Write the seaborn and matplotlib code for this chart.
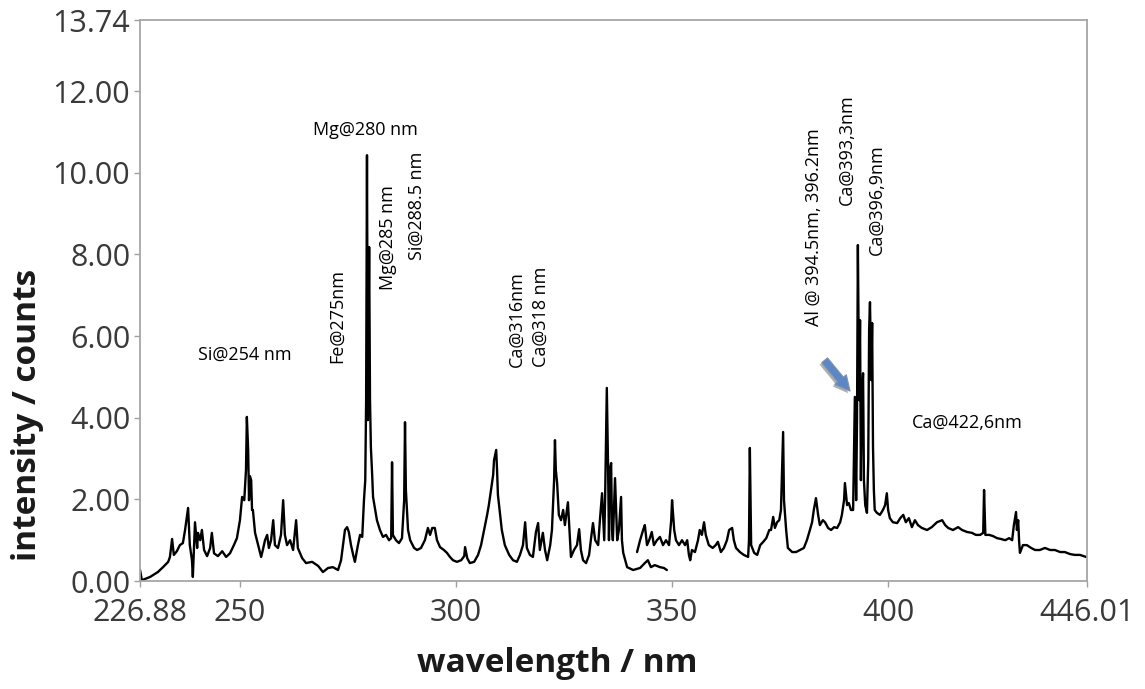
import numpy as np
import pandas as pd
import matplotlib
matplotlib.use("Agg")
import matplotlib.pyplot as plt
import matplotlib.patheffects as pe
import seaborn as sns

# Spectrometer channel 1 (UV): wavelength (nm) and intensity (counts)
wl_ch1 = [226.88, 227.3, 229.2, 231.0, 232.2, 233.4, 233.8, 234.3, 234.7, 235.4,
          236.1, 236.8, 237.3, 238.0, 238.4, 238.9, 239.1, 239.4, 239.6, 240.1,
          240.3, 240.8, 241.2, 241.7, 242.4, 243.1, 243.5, 244.0, 244.9, 245.9,
          246.8, 247.7, 248.6, 249.3, 250.0, 250.5, 251.0, 251.4, 251.6, 251.9,
          252.1, 252.3, 252.6, 252.8, 253.0, 253.5, 254.2, 254.9, 255.3, 255.8,
          256.3, 256.7, 257.2, 257.7, 258.1, 258.8, 259.5, 260.0, 260.4, 260.9,
          261.6, 262.3, 263.0, 263.4, 264.4, 265.3, 266.7, 268.1, 269.2, 270.4,
          271.5, 272.7, 273.4, 273.9, 274.3, 274.8, 275.2, 275.7, 276.2, 276.6,
          277.3, 277.8, 278.3, 278.7, 279.0, 279.2, 279.4, 279.6, 279.9, 280.1,
          280.3, 280.6, 280.8, 281.3, 281.7, 282.4, 283.1, 283.8, 284.5, 285.0,
          285.2, 285.4, 286.1, 286.8, 287.5, 288.0, 288.2, 288.4, 288.9, 289.4,
          290.3, 291.0, 291.9, 292.8, 293.5, 294.0, 294.5, 295.1, 295.6, 296.3,
          297.2, 297.9, 298.6, 299.3, 300.2, 301.2, 301.9, 302.1, 302.6, 303.2,
          304.2, 305.1, 305.8, 306.5, 307.2, 307.6, 308.1, 308.6, 308.8, 309.3,
          309.5, 309.7, 310.2, 310.6, 311.3, 312.3, 313.2, 314.1, 314.8, 315.5,
          316.0, 316.4, 317.1, 317.8, 318.5, 319.0, 319.4, 320.1, 320.6, 321.1,
          321.8, 322.2, 322.7, 322.9, 323.1, 323.4, 323.8, 324.3, 324.8, 325.2,
          325.9, 326.4, 326.6, 327.3, 328.0, 328.5, 328.9, 329.4, 330.1, 330.8,
          331.2, 331.7, 332.2, 332.9, 333.3, 333.8, 334.3, 334.5, 334.9, 335.2,
          335.4, 335.6, 335.9, 336.1, 336.3, 336.8, 337.3, 337.7, 338.2, 338.4,
          338.7, 339.6, 341.0, 342.6, 343.7, 344.4, 345.1, 346.0, 347.2, 348.1,
          348.8]
int_ch1 = [0.27, 0.02, 0.10, 0.22, 0.34, 0.47, 0.59, 1.03, 0.64, 0.73,
           0.88, 0.93, 1.25, 1.79, 0.88, 0.51, 0.10, 0.88, 1.44, 0.81,
           1.18, 1.00, 1.25, 0.76, 0.61, 0.81, 1.18, 0.68, 0.61, 0.73,
           0.59, 0.68, 0.88, 1.05, 1.49, 2.06, 1.98, 2.72, 4.02, 3.21,
           1.98, 2.57, 2.47, 1.74, 1.74, 1.18, 0.88, 0.59, 0.76, 1.00,
           1.13, 0.81, 1.00, 1.49, 0.88, 0.81, 1.13, 1.98, 1.13, 0.88,
           1.00, 0.76, 1.49, 0.81, 0.56, 0.44, 0.47, 0.37, 0.22, 0.32,
           0.34, 0.27, 0.51, 0.93, 1.25, 1.32, 1.20, 0.88, 0.64, 0.47,
           0.88, 1.13, 1.08, 1.98, 2.47, 4.43, 10.43, 3.94, 8.18, 4.43,
           3.28, 2.60, 2.06, 1.74, 1.49, 1.25, 1.08, 1.13, 1.00, 1.05,
           2.91, 1.13, 1.00, 0.93, 1.05, 1.98, 3.89, 2.23, 1.25, 1.00,
           0.81, 0.76, 0.81, 1.00, 1.30, 1.13, 1.30, 1.30, 1.00, 0.83,
           0.76, 0.69, 0.59, 0.51, 0.47, 0.51, 0.61, 0.83, 0.56, 0.44,
           0.47, 0.64, 0.88, 1.25, 1.62, 1.86, 2.23, 2.60, 2.96, 3.21,
           2.72, 2.11, 1.62, 1.25, 0.88, 0.64, 0.51, 0.47, 0.64, 0.88,
           1.44, 0.81, 0.64, 0.59, 1.20, 1.42, 0.76, 1.18, 0.76, 0.51,
           0.88, 1.25, 2.47, 3.45, 2.72, 2.40, 1.62, 1.49, 1.74, 1.37,
           1.93, 1.00, 0.59, 0.76, 0.88, 1.27, 0.76, 0.51, 0.44, 0.64,
           1.00, 1.42, 1.00, 0.88, 1.49, 2.15, 1.00, 1.98, 4.73, 2.72,
           1.00, 2.72, 2.89, 1.25, 1.00, 2.52, 1.00, 1.25, 2.06, 1.00,
           0.69, 0.34, 0.27, 0.32, 0.44, 0.51, 0.34, 0.39, 0.34, 0.32,
           0.27]

# Spectrometer channel 2 (VIS): wavelength (nm) and intensity (counts)
wl_ch2 = [341.9, 342.6, 343.3, 343.7, 344.2, 344.7, 345.3, 345.8, 346.5, 347.2,
          347.9, 348.6, 349.3, 349.8, 350.0, 350.5, 350.9, 351.6, 352.3, 353.0,
          353.5, 353.9, 354.2, 354.6, 355.3, 356.0, 356.4, 356.9, 357.4, 357.8,
          358.5, 359.4, 360.1, 360.6, 361.3, 362.0, 362.7, 363.2, 363.9, 364.3,
          364.8, 365.7, 366.6, 367.6, 367.8, 368.0, 368.3, 369.0, 369.7, 370.4,
          371.1, 371.8, 372.5, 372.9, 373.4, 373.8, 374.3, 374.8, 375.2, 375.7,
          375.9, 376.4, 376.8, 377.8, 378.7, 379.6, 380.5, 381.2, 381.9, 382.4,
          382.8, 383.3, 383.8, 384.2, 384.9, 385.4, 386.1, 386.8, 387.5, 388.2,
          388.9, 389.3, 389.8, 390.0, 390.5, 390.9, 391.4, 391.9, 392.1, 392.3,
          392.6, 392.8, 393.0, 393.3, 393.5, 393.7, 393.9, 394.2, 394.4, 394.7,
          395.1, 395.4, 395.6, 395.8, 396.1, 396.3, 396.5, 396.7, 396.9, 397.4,
          398.1, 398.8, 399.3, 399.7, 400.0, 400.4, 401.1, 402.1, 402.8, 403.5,
          404.1, 404.8, 405.5, 406.2, 406.9, 407.8, 409.0, 410.1, 411.3, 412.5,
          413.2, 413.9, 415.0, 416.2, 417.1, 418.3, 419.4, 420.3, 421.3, 422.0,
          422.2, 422.5, 423.4, 424.3, 425.2, 426.1, 427.1, 428.0, 428.7, 429.1,
          429.6, 429.8, 430.1, 430.3, 430.5, 431.2, 432.1, 433.1, 434.0, 435.1,
          436.3, 437.5, 438.6, 439.8, 440.9, 442.1, 443.2, 444.4, 445.8]
int_ch2 = [0.71, 1.00, 1.25, 1.37, 0.88, 1.00, 1.20, 0.88, 1.00, 1.08,
           0.88, 1.00, 0.88, 1.49, 1.98, 1.25, 1.00, 0.88, 1.00, 0.88,
           1.00, 0.64, 0.51, 0.76, 0.71, 1.00, 1.25, 1.13, 1.44, 1.13,
           0.88, 0.81, 0.88, 0.96, 0.71, 0.81, 1.00, 1.25, 1.30, 1.00,
           0.81, 0.71, 0.64, 0.59, 1.00, 3.26, 0.88, 0.69, 0.64, 0.88,
           0.96, 1.05, 1.25, 1.25, 1.57, 1.30, 1.44, 1.49, 1.74, 3.65,
           1.98, 1.25, 0.81, 0.71, 0.71, 0.76, 0.81, 1.00, 1.25, 1.44,
           1.74, 2.03, 1.62, 1.37, 1.49, 1.44, 1.30, 1.25, 1.32, 1.30,
           1.44, 1.62, 1.98, 2.40, 1.86, 1.91, 1.74, 1.74, 3.21, 4.51,
           1.98, 3.94, 8.23, 4.43, 6.39, 2.47, 4.43, 5.09, 2.47, 1.86,
           1.67, 2.96, 6.15, 6.83, 4.92, 6.32, 3.28, 2.23, 1.74, 1.67,
           1.62, 1.74, 1.86, 2.15, 1.74, 1.54, 1.44, 1.42, 1.54, 1.62,
           1.44, 1.54, 1.32, 1.49, 1.37, 1.30, 1.25, 1.32, 1.44, 1.49,
           1.37, 1.30, 1.25, 1.32, 1.25, 1.20, 1.18, 1.13, 1.13, 1.18,
           2.23, 1.13, 1.13, 1.10, 1.05, 1.03, 1.00, 1.05, 1.00, 1.37,
           1.69, 1.25, 1.49, 1.00, 0.69, 0.88, 0.88, 0.81, 0.76, 0.76,
           0.81, 0.76, 0.76, 0.71, 0.71, 0.66, 0.64, 0.64, 0.59]

x_ticks = [226.88, 250, 300, 350, 400, 446.01]
x_tick_labels = ["226.88", "250", "300", "350", "400", "446.01"]
y_ticks = [0, 2, 4, 6, 8, 10, 12, 13.74]
y_tick_labels = ["0.00", "2.00", "4.00", "6.00", "8.00", "10.00", "12.00", "13.74"]

# Emission line labels: (text, x, y, rotation, ha, va)
line_labels = [
    ("Si@254 nm", 251.2, 5.53, 0, "center", "center"),
    ("Mg@280 nm", 279.0, 11.04, 0, "center", "center"),
    ("Fe@275nm", 272.5, 5.34, 90, "center", "bottom"),
    ("Mg@285 nm", 284.3, 7.13, 90, "center", "bottom"),
    ("Si@288.5 nm", 291.0, 7.86, 90, "center", "bottom"),
    ("Ca@316nm", 314.1, 5.24, 90, "center", "bottom"),
    ("Ca@318 nm", 319.7, 5.24, 90, "center", "bottom"),
    ("Al @ 394.5nm, 396.2nm", 382.8, 6.24, 90, "center", "bottom"),
    ("Ca@393,3nm", 390.5, 9.21, 90, "center", "bottom"),
    ("Ca@396,9nm", 397.4, 7.98, 90, "center", "bottom"),
    ("Ca@422,6nm", 405.5, 3.87, 0, "left", "center"),
]
arrow_tail = (384.9, 5.46)
arrow_head = (391.6, 4.60)

df = pd.concat([
    pd.DataFrame({"wavelength": wl_ch1, "intensity": int_ch1, "channel": "UV"}),
    pd.DataFrame({"wavelength": wl_ch2, "intensity": int_ch2, "channel": "VIS"}),
], ignore_index=True)

sns.set_theme(style="white")
plt.rcParams["font.family"] = ["Open Sans", "DejaVu Sans"]

fig = plt.figure(figsize=(11.45, 6.89), dpi=100)
ax = fig.add_axes([0.1223, 0.1567, 0.827, 0.8142])

sns.lineplot(data=df, x="wavelength", y="intensity", units="channel",
             estimator=None, color="black", linewidth=1.7, ax=ax, legend=False)

ax.set_xlim(226.88, 446.01)
ax.set_ylim(0, 13.74)
ax.set_xticks(x_ticks)
ax.set_xticklabels(x_tick_labels)
ax.set_yticks(y_ticks)
ax.set_yticklabels(y_tick_labels)
ax.tick_params(axis="both", which="major", labelsize=22, labelcolor="#3a3a3a",
               color="#a0a0a0", length=4, width=1, direction="out",
               bottom=True, left=True)
ax.tick_params(axis="x", pad=8)
ax.tick_params(axis="y", pad=3)

for side in ["left", "right", "top", "bottom"]:
    ax.spines[side].set_visible(True)
    ax.spines[side].set_color("#a6a6a6")
    ax.spines[side].set_linewidth(1.3)

ax.set_xlabel("wavelength / nm", fontsize=24, fontweight="bold", color="#1a1a1a")
ax.set_ylabel("intensity / counts", fontsize=24, fontweight="bold", color="#1a1a1a")
ax.xaxis.set_label_coords(0.441, -0.118)
ax.yaxis.set_label_coords(-0.101, 0.296)

for text, x, y, rot, ha, va in line_labels:
    ax.text(x, y, text, rotation=rot, ha=ha, va=va, fontsize=13, color="black")

ax.annotate("", xy=arrow_head, xytext=arrow_tail,
            arrowprops=dict(arrowstyle="simple,head_length=0.9,head_width=0.9,tail_width=0.45",
                            fc="#5b87c5", ec="#7f93ad", lw=0.8,
                            path_effects=[pe.SimplePatchShadow(offset=(-1.5, -1.5), shadow_rgbFace="#9a9a9a", alpha=0.8), pe.Normal()]))

fig.savefig("out.png", dpi=100)
